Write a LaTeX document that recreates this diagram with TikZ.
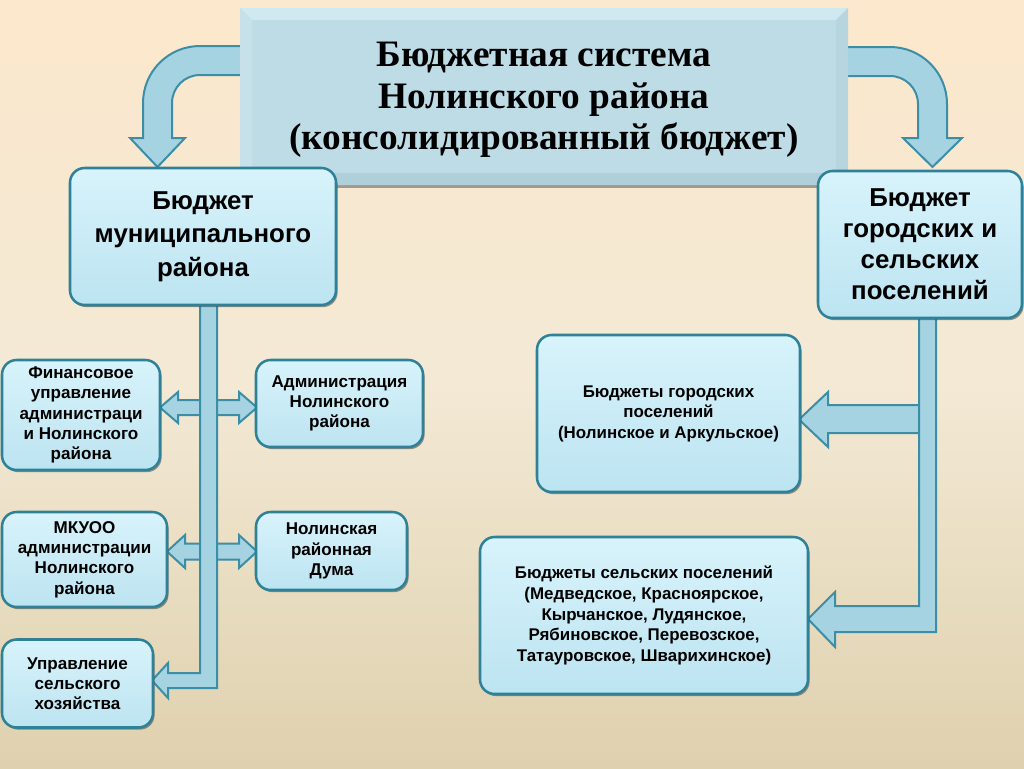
\documentclass[tikz,border=0pt]{standalone}
\usepackage{fontspec}
\setmainfont{Liberation Serif}
\newfontfamily\boxfont{Liberation Sans}
\usetikzlibrary{shadows}
\definecolor{bgtop}{HTML}{FCE8CC}
\definecolor{bgmid}{HTML}{F3E9D5}
\definecolor{bgbot}{HTML}{DFD1AE}
\definecolor{boxtop}{HTML}{D8F3FB}
\definecolor{boxbot}{HTML}{BCE4F1}
\definecolor{boxline}{HTML}{2F8198}
\definecolor{arrfill}{HTML}{A6D3E1}
\definecolor{arrline}{HTML}{3B8EA5}
\definecolor{ttlfill}{HTML}{BDDCE6}
\definecolor{ttllight}{HTML}{D0E8EF}
\definecolor{ttlleft}{HTML}{C6E1E9}
\definecolor{ttldark}{HTML}{AFCFDA}
\definecolor{ttlright}{HTML}{B6D5DF}
\begin{document}
\begin{tikzpicture}[x=0.75pt,y=-0.75pt,
  box/.style={draw=boxline, line width=1.9pt, rounded corners=11pt,
    top color=boxtop, bottom color=boxbot, align=center, inner sep=0pt,
    drop shadow={shadow xshift=1.2pt, shadow yshift=-1.6pt, fill=black!75, opacity=0.55},
    font=\boxfont\bfseries\fontsize{12.8}{15.2}\selectfont},
  bigbox/.style={box, font=\boxfont\bfseries\fontsize{19.4}{25}\selectfont},
  midbox/.style={box, font=\boxfont\bfseries\fontsize{12.7}{15.4}\selectfont},
  arr/.style={fill=arrfill, draw=arrline, line width=1.5pt, line join=miter},
  titlebox/.style={fill=ttlfill, inner sep=0pt,
    drop shadow={shadow xshift=0pt, shadow yshift=-2.5pt, fill=black!70, opacity=0.5}},
  titletext/.style={align=center, font=\bfseries\fontsize{28}{31}\selectfont}
]
\useasboundingbox (0,0) rectangle (1024,768);
\shade[top color=bgtop, bottom color=bgbot, middle color=bgmid] (0,0) rectangle (1024,768);

% curved arrows from the title
\draw[arr] (250,46) -- (200,46) .. controls (168.5,46) and (143,71.5) .. (143,103)
  -- (143,138) -- (130,138) -- (157.5,167) -- (185,138) -- (172,138) -- (172,103)
  .. controls (172,87.5) and (184.5,75) .. (200,75) -- (250,75) -- cycle;
\draw[arr] (838,47) -- (890,47) .. controls (921.5,47) and (947,72.5) .. (947,104)
  -- (947,138) -- (962,138) -- (932.5,167) -- (903,138) -- (918,138) -- (918,104)
  .. controls (918,88.5) and (905.5,76) .. (890,76) -- (838,76) -- cycle;

% title box with bevel
\node[titlebox, minimum width=456pt, minimum height=132.75pt] (title) at (544,96.5) {};
\fill[ttllight] (240,8) -- (848,8) -- (836,20) -- (252,20) -- cycle;
\fill[ttlleft] (240,8) -- (252,20) -- (252,173) -- (240,185) -- cycle;
\fill[ttldark] (240,185) -- (252,173) -- (836,173) -- (848,185) -- cycle;
\fill[ttlright] (848,8) -- (848,185) -- (836,173) -- (836,20) -- cycle;
\fill[ttlfill] (252,20) rectangle (836,173);
\node[titletext] (titletxt) at (544,100) {Бюджетная система\\Нолинского района\\(консолидированный бюджет)};

% left double arrows
\draw[arr] (160,407.5) -- (178,392) -- (178,400) -- (239,400) -- (239,392) -- (257,407.5)
  -- (239,423) -- (239,415) -- (178,415) -- (178,423) -- cycle;
\draw[arr] (167,551.5) -- (185,535) -- (185,543.5) -- (239,543.5) -- (239,535) -- (257,551.5)
  -- (239,568) -- (239,559.5) -- (185,559.5) -- (185,568) -- cycle;
% left bar with bottom arrow
\draw[arr] (200,300) -- (217,300) -- (217,688) -- (168,688) -- (168,698) -- (152,680.5)
  -- (168,663) -- (168,673) -- (200,673) -- cycle;

% right top arrow and right bar with bottom arrow
\draw[arr] (799,419.5) -- (828,392) -- (828,405) -- (925,405) -- (925,433) -- (828,433)
  -- (828,447) -- cycle;
\draw[arr] (919,315) -- (936,315) -- (936,632) -- (835,632) -- (835,647) -- (808,619)
  -- (835,592) -- (835,606) -- (919,606) -- cycle;

% boxes
\node[bigbox, minimum width=199.5pt, minimum height=102.75pt] (muni) at (203,236.5)
  {Бюджет\\муниципального\\района};
\node[bigbox, minimum width=153pt, minimum height=110.25pt, font=\boxfont\bfseries\fontsize{19.4}{23.25}\selectfont] (posel) at (920,244.5)
  {Бюджет\\городских и\\сельских\\поселений};
\node[box, minimum width=118.5pt, minimum height=82.5pt] (fin) at (81,415)
  {Финансовое\\управление\\администраци\\и Нолинского\\района};
\node[box, minimum width=125.25pt, minimum height=65.25pt] (adm) at (339.5,403.5)
  {Администрация\\Нолинского\\района};
\node[box, minimum width=123.75pt, minimum height=71.25pt] (mkuoo) at (84.5,559.5)
  {МКУОО\\администрации\\Нолинского\\района};
\node[box, minimum width=113.25pt, minimum height=58.5pt] (duma) at (331.5,551)
  {Нолинская\\районная\\Дума};
\node[box, minimum width=113.25pt, minimum height=66pt] (ush) at (77.5,683.5)
  {Управление\\сельского\\хозяйства};
\node[midbox, minimum width=197.25pt, minimum height=117.75pt] (gor) at (668.5,413.5)
  {Бюджеты городских\\поселений\\(Нолинское и Аркульское)};
\node[midbox, minimum width=246pt, minimum height=117.75pt] (sel) at (644,615.5)
  {Бюджеты сельских поселений\\(Медведское, Красноярское,\\Кырчанское, Лудянское,\\Рябиновское, Перевозское,\\Татауровское, Шварихинское)};
\end{tikzpicture}
\end{document}
